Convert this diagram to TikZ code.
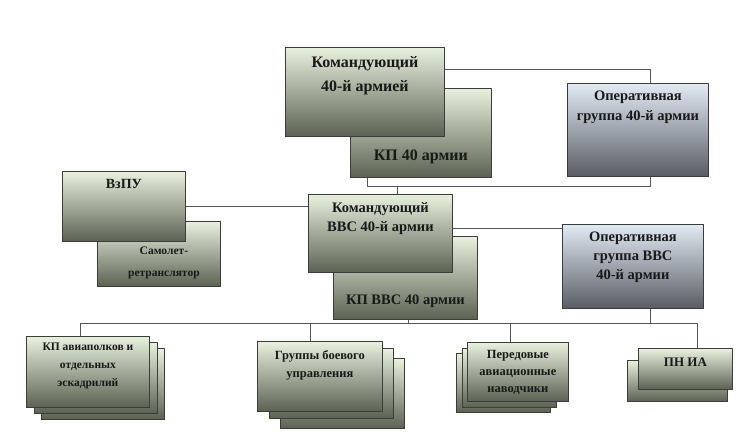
\documentclass[tikz,border=0pt]{standalone}
\usepackage{fontspec}
\setmainfont{Liberation Serif}
\usetikzlibrary{positioning}

\definecolor{grtop}{HTML}{E8F0DE}
\definecolor{grmid}{HTML}{AEB6A0}
\definecolor{grbot}{HTML}{5C6253}
\definecolor{bltop}{HTML}{E2EAF4}
\definecolor{blmid}{HTML}{AEB4BE}
\definecolor{blbot}{HTML}{595C64}
\definecolor{edge}{HTML}{3A3D38}
\definecolor{wire}{HTML}{555555}

\begin{document}
\begin{tikzpicture}[x=1pt, y=-1pt, line join=round]

		\tikzset{box/.style={draw=edge, line width=.8pt, anchor=north west, inner sep=0pt,
				top color=grtop, middle color=grmid, bottom color=grbot},
			bluebox/.style={box, top color=bltop, middle color=blmid, bottom color=blbot},
			lbl/.style={anchor=north, inner sep=0pt, align=center, text=black!90, font=\bfseries},
			link/.style={draw=wire, line width=.8pt}}

		\useasboundingbox (0,0) rectangle (750,444);

		% army level
		\node[box, minimum width=141, minimum height=89] (kp40) at (350,88) {};
		\node[box, minimum width=159, minimum height=89] (kom40) at (285,47) {};
		\node[bluebox, minimum width=141, minimum height=93] (opg40) at (567,83) {};
		\node[lbl, font=\bfseries\fontsize{16}{24}\selectfont, below=9pt of kom40.north] (kom40t) {Командующий\\40-й армией};
		\node[lbl, font=\bfseries\fontsize{16}{24}\selectfont, below=62pt of kp40.north] (kp40t) {КП 40 армии};
		\node[lbl, font=\bfseries\fontsize{14.5}{20}\selectfont, below=8pt of opg40.north] (opg40t) {Оперативная\\группа 40-й армии};

		% air force level
		\node[box, minimum width=123, minimum height=65] (smr) at (97,221) {};
		\node[box, minimum width=123, minimum height=70] (vzpu) at (62,171) {};
		\node[box, minimum width=144, minimum height=83] (kpvvs) at (333,236) {};
		\node[box, minimum width=144, minimum height=78] (kvvs) at (308,194) {};
		\node[bluebox, minimum width=141, minimum height=84] (opgv) at (562,224) {};
		\node[lbl, font=\bfseries\fontsize{14}{20}\selectfont, below=8pt of vzpu.north] (vzput) {ВзПУ};
		\node[lbl, font=\bfseries\fontsize{11.5}{22}\selectfont, below=26pt of smr.north, xshift=5pt] (smrt) {Самолет-\\ретранслятор};
		\node[lbl, font=\bfseries\fontsize{14.5}{19}\selectfont, below=8pt of kvvs.north] (kvvst) {Командующий\\ВВС 40-й армии};
		\node[lbl, font=\bfseries\fontsize{14.5}{19}\selectfont, below=59pt of kpvvs.north] (kpvvst) {КП ВВС 40 армии};
		\node[lbl, font=\bfseries\fontsize{14.5}{19}\selectfont, below=8pt of opgv.north] (opgvt) {Оперативная\\группа ВВС\\40-й армии};

		% subordinate units, stacked copies behind
		\foreach \x/\y in {41/348, 34/342}
		\node[box, minimum width=123, minimum height=71] at (\x,\y) {};
		\node[box, minimum width=123, minimum height=71] (kpa) at (26,336) {};
		\foreach \x/\y in {280/358, 269/348}
		\node[box, minimum width=124, minimum height=70] at (\x,\y) {};
		\node[box, minimum width=125, minimum height=70] (grp) at (257,341) {};
		\foreach \x/\y in {456/353, 462/348}
		\node[box, minimum width=94, minimum height=59] at (\x,\y) {};
		\node[box, minimum width=101, minimum height=59] (per) at (467,342) {};
		\node[box, minimum width=100, minimum height=41] at (627,360) {};
		\node[box, minimum width=94, minimum height=41] (pnia) at (638,348) {};
		\node[lbl, font=\bfseries\fontsize{11.5}{18}\selectfont, below=7pt of kpa.north] (kpat) {КП авиаполков и\\отдельных\\эскадрилий};
		\node[lbl, font=\bfseries\fontsize{12.5}{18}\selectfont, below=9pt of grp.north] (grpt) {Группы боевого\\управления};
		\node[lbl, font=\bfseries\fontsize{12.5}{17}\selectfont, below=8pt of per.north] (pert) {Передовые\\авиационные\\наводчики};
		\node[lbl, font=\bfseries\fontsize{13}{18}\selectfont, below=10pt of pnia.north] (pniat) {ПН ИА};

		% connectors
		\coordinate (bus1) at (0,186);
		\coordinate (bus2) at (0,323);
		\coordinate (kom40e) at ([yshift=-22pt]kom40.north east);
		\coordinate (opg40n) at ([xshift=12pt]opg40.north);
		\coordinate (opg40s) at ([xshift=12pt]opg40.south);
		\coordinate (kp40s) at ([xshift=17pt]kp40.south west);
		\coordinate (kvvsn) at ([xshift=17pt]kvvs.north);
		\coordinate (kvvse) at ([yshift=5pt]kvvs.east);
		\coordinate (kpvvss) at ([xshift=3pt]kpvvs.south);
		\coordinate (opgvs) at ([xshift=17pt]opgv.south);
		\coordinate (kpan) at ([xshift=-8pt]kpa.north);
		\coordinate (grpn) at ([xshift=-10pt]grp.north);
		\coordinate (pern) at ([xshift=-8pt]per.north);
		\coordinate (pnian) at ([xshift=12pt]pnia.north);
		\draw[link] (kom40e) -| (opg40n);
		\draw[link] (kp40s) |- (bus1 -| opg40s) -- (opg40s);
		\draw[link] (kvvsn) -- (bus1 -| kvvsn);
		\draw[link] (vzpu.east) -- (vzpu.east -| kvvs.west);
		\draw[link] (kvvse) -- (kvvse -| opgv.west);
		\draw[link] (kpvvss) -- (bus2 -| kpvvss);
		\draw[link] (opgvs) -- (bus2 -| opgvs);
		\draw[link] (kpan) |- (bus2 -| pnian) -- (pnian);
		\draw[link] (grpn) -- (bus2 -| grpn);
		\draw[link] (pern) -- (bus2 -| pern);
		\end{tikzpicture}
\end{document}
